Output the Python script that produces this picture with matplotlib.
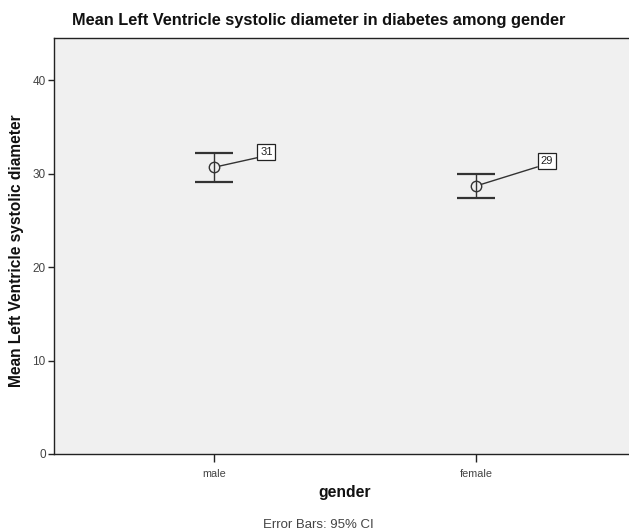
import matplotlib
matplotlib.use("Agg")
import matplotlib.pyplot as plt

plt.rcParams['font.family'] = ['Liberation Sans', 'DejaVu Sans']

categories = ["male", "female"]
means = [30.67, 28.67]
ci_lower = [29.13, 27.38]
ci_upper = [32.24, 29.96]
labels = ["31", "29"]
label_offsets_x = [0.20, 0.27]
label_y = [32.3, 31.35]

fig = plt.figure(figsize=(6.29, 5.32), dpi=100)
ax = fig.add_axes([54/629, 78/532, 1 - 54/629, (454-38)/532])
ax.set_facecolor('#F0F0F0')

xs = [1, 2]
for x, m, lo, hi, lab, dx, ly in zip(xs, means, ci_lower, ci_upper, labels, label_offsets_x, label_y):
    ax.errorbar([x], [m], yerr=[[m - lo], [hi - m]], fmt='none', ecolor='#333333',
                elinewidth=1.0, capsize=14, capthick=1.6, zorder=2)
    ax.plot([x], [m], marker='o', markersize=7.5, markerfacecolor='none',
            markeredgecolor='#333333', markeredgewidth=1.0, linestyle='none', zorder=3)
    ax.annotate(lab, xy=(x, m), xytext=(x + dx, ly), textcoords='data',
                fontsize=8, ha='center', va='center', color='#222222',
                bbox=dict(boxstyle='square,pad=0.25', fc='white', ec='#222222', lw=0.9),
                arrowprops=dict(arrowstyle='-', color='#333333', lw=1.0,
                                relpos=(0, 0), shrinkA=0, shrinkB=4))

ax.set_xlim(0.389, 2.584)
ax.set_ylim(0, 44.5)
ax.set_xticks(xs)
ax.set_xticklabels(categories)
ax.set_yticks([0, 10, 20, 30, 40])
ax.tick_params(axis='x', labelsize=7.8, labelcolor='#444444', color='#222222',
               length=6, width=1.0, pad=5)
ax.tick_params(axis='y', labelsize=8.5, labelcolor='#444444', color='#222222',
               length=4.5, width=1.0, pad=1.5)

ax.spines['right'].set_visible(False)
for side in ['left', 'bottom', 'top']:
    ax.spines[side].set_color('#222222')
    ax.spines[side].set_linewidth(1.0)

fig.text(319/629, 1 - 20/532, "Mean Left Ventricle systolic diameter in diabetes among gender",
         ha='center', va='center', fontsize=11.8, fontweight='bold', color='#111111')
fig.text(17/629, 1 - 251/532, "Mean Left Ventricle systolic diameter", rotation=90,
         ha='center', va='center', fontsize=11.2, fontweight='bold', color='#111111')
fig.text(345/629, 1 - 493/532, "gender", ha='center', va='center', fontsize=11.3,
         fontweight='bold', color='#111111')
fig.text(318/629, 1 - 525/532, "Error Bars: 95% CI", ha='center', va='center',
         fontsize=9.5, color='#444444')

fig.savefig("out.png", dpi=100)
